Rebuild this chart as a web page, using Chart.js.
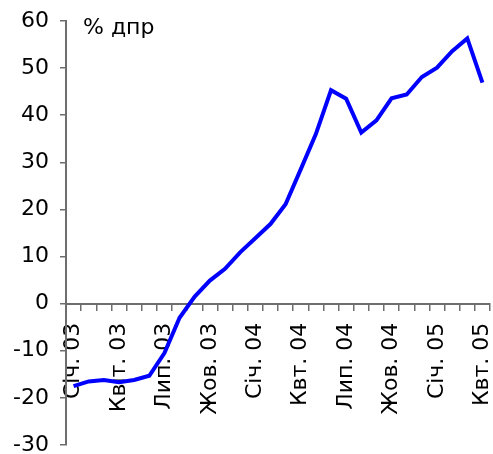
<!DOCTYPE html>
<html lang="uk">
<head>
<meta charset="UTF-8">
<title>% дпр</title>
<style>
  html, body { margin: 0; padding: 0; background: #fff; }
  #wrap { width: 493px; height: 454px; }
</style>
</head>
<body>
<div id="wrap"><canvas id="myChart" width="493" height="454"></canvas></div>
<script src="https://cdn.jsdelivr.net/npm/chart.js@4/dist/chart.umd.min.js"></script>
<script>
// monthly, Jan 2003 .. Apr 2005
var months = ['Січ. 03', 'Лют. 03', 'Бер. 03', 'Квіт. 03', 'Трав. 03', 'Черв. 03',
    'Лип. 03', 'Серп. 03', 'Вер. 03', 'Жов. 03', 'Лист. 03', 'Груд. 03',
    'Січ. 04', 'Лют. 04', 'Бер. 04', 'Квт. 04', 'Трав. 04', 'Черв. 04',
    'Лип. 04', 'Серп. 04', 'Вер. 04', 'Жов. 04', 'Лист. 04', 'Груд. 04',
    'Січ. 05', 'Лют. 05', 'Бер. 05', 'Квт. 05']
var values = [-17.5, -16.5, -16.2, -16.7, -16.2, -15.3,
    -10.5, -3.0, 1.5, 4.9, 7.4, 10.9,
    13.9, 16.9, 21.1, 28.5, 36.0, 45.3,
    43.5, 36.3, 38.9, 43.6, 44.4, 48.1,
    50.1, 53.6, 56.3, 46.9]
var yMin = -30, yMax = 60, yStep = 10
var labelEvery = 3
var unitLabel = '% дпр'

var axisColor = '#6e6e6e'
var font = { family: 'DejaVu Sans', size: 22 }

// unit text in the top left corner of the plot
var unitPlugin = {
    id: 'unit',
    afterDraw: function (chart) {
        var ctx = chart.ctx, area = chart.chartArea
        ctx.save()
        ctx.font = '22px "DejaVu Sans"'
        ctx.fillStyle = '#000'
        ctx.textBaseline = 'alphabetic'
        ctx.fillText(unitLabel, area.left + 17, area.top + 13)
        ctx.restore()
    }
}

function noPadding(scale) {
    scale.paddingLeft = 0
    scale.paddingRight = 0
    scale.paddingTop = 0
    scale.paddingBottom = 0
}

var ctx = document.getElementById('myChart')
var myChart = new Chart(ctx, {
    type: 'line',
    data: {
        labels: months,
        datasets: [{
            data: values,
            borderColor: '#0000ff',
            borderWidth: 4,
            pointRadius: 0,
            tension: 0,
            fill: false
        }]
    },
    options: {
        responsive: false,
        animation: false,
        layout: { padding: { left: 0, right: 3, top: 21, bottom: 9 } },
        plugins: {
            legend: { display: false },
            tooltip: { enabled: false }
        },
        scales: {
            x: {
                position: { y: 0 },
                offset: true,
                afterFit: function (scale) {
                    scale.height = 0
                    noPadding(scale)
                },
                grid: {
                    offset: true,
                    drawOnChartArea: false,
                    drawTicks: true,
                    tickLength: 6,
                    color: axisColor,
                    lineWidth: 1.5
                },
                border: { color: axisColor, width: 2 },
                ticks: {
                    autoSkip: false,
                    minRotation: 90,
                    maxRotation: 90,
                    padding: 13,
                    color: '#000',
                    font: font,
                    callback: function (val, i) {
                        return i % labelEvery === 0 ? months[i] : ''
                    }
                }
            },
            y: {
                min: yMin,
                max: yMax,
                afterFit: function (scale) {
                    scale.width = 66
                    noPadding(scale)
                },
                grid: {
                    drawOnChartArea: false,
                    drawTicks: true,
                    tickLength: 6,
                    color: axisColor,
                    lineWidth: 1.5
                },
                border: { color: axisColor, width: 2 },
                ticks: {
                    stepSize: yStep,
                    padding: 11,
                    color: '#000',
                    font: font
                }
            }
        }
    },
    plugins: [unitPlugin]
})
</script>
</body>
</html>
